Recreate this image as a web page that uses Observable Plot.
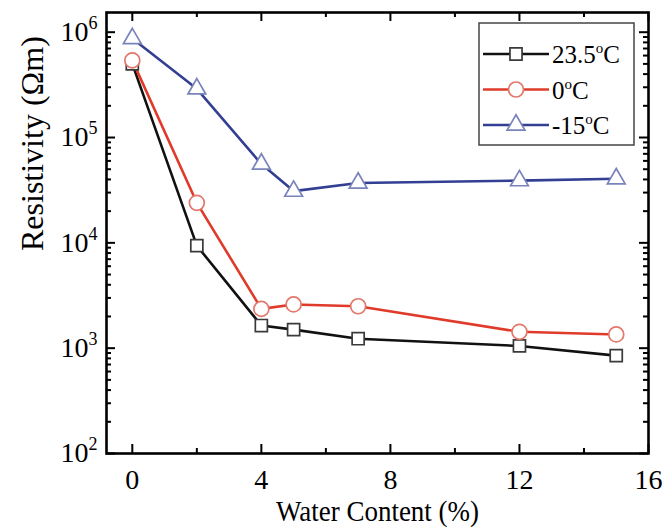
<!DOCTYPE html>
<html><head><meta charset="utf-8">
<script src="https://cdn.jsdelivr.net/npm/d3@7"></script>
<script src="https://cdn.jsdelivr.net/npm/@observablehq/plot@0.6"></script>
<style>body{margin:0;background:#fff}#chart svg{display:block}</style>
</head><body><div id="chart"></div>
<script>
// ---- data ----
const waterContent = [0, 2, 4, 5, 7, 12, 15];
const seriesNames = ["23.5", "0", "-15"]; // temperatures, °C
const res23_5 = [5.0e5, 9.4e3, 1.64e3, 1.5e3, 1.23e3, 1.05e3, 8.5e2];
const res0 = [5.4e5, 2.4e4, 2.36e3, 2.6e3, 2.5e3, 1.43e3, 1.35e3];
const resMinus15 = [8.7e5, 2.9e5, 5.6e4, 3.1e4, 3.7e4, 3.9e4, 4.06e4];
const xTickMajor = [0, 4, 8, 12, 16];
const xTickMinor = [2, 6, 10, 14];
const yExponents = [2, 3, 4, 5, 6];
const xTitle = "Water Content (%)";
const yTitle = "Resistivity (Ωm)";

// ---- style ----
const W = 666, H = 530, mL = 106, mR = 18, mT = 12, mB = 77;
const fw = W - mL - mR, fh = H - mT - mB;
const lineColors = ["#111111", "#e03a2a", "#323f93"];
const markColors = ["#3a3a3a", "#e2786c", "#7a84bb"];
const symbols = ["square", "circle", "triangle"];
const radii = [6.8, 7.5, 6.6];
const font = "Liberation Serif";

const seriesValues = [res23_5, res0, resMinus15];
const series = seriesValues.map((vals, s) =>
  waterContent.map((x, i) => ({x, y: vals[i], name: seriesNames[s]})));

const yMajor = yExponents.map(e => 10 ** e);
const yMinor = d3.range(2, 6).flatMap(e => d3.range(2, 10).map(k => k * 10 ** e));

const marks = [];
const tk = {stroke: "#000", strokeWidth: 2};
marks.push(Plot.tickX(xTickMajor, {x: d => d, insetTop: fh - 9, ...tk}));
marks.push(Plot.tickX(xTickMinor, {x: d => d, insetTop: fh - 5, ...tk}));
marks.push(Plot.tickX(xTickMajor, {x: d => d, insetBottom: fh - 9, ...tk}));
marks.push(Plot.tickX(xTickMinor, {x: d => d, insetBottom: fh - 5, ...tk}));
marks.push(Plot.tickY(yMajor, {y: d => d, insetRight: fw - 9, ...tk}));
marks.push(Plot.tickY(yMinor, {y: d => d, insetRight: fw - 5, ...tk}));
marks.push(Plot.tickY(yMajor, {y: d => d, insetLeft: fw - 9, ...tk}));
marks.push(Plot.tickY(yMinor, {y: d => d, insetLeft: fw - 5, ...tk}));

series.forEach((data, s) => {
  marks.push(Plot.line(data, {x: "x", y: "y", stroke: lineColors[s], strokeWidth: 2.6}));
});
series.forEach((data, s) => {
  marks.push(Plot.dot(data, {x: "x", y: "y", symbol: () => symbols[s], r: radii[s],
    stroke: markColors[s], fill: "white", strokeWidth: 1.7}));
});

marks.push(Plot.axisX({ticks: xTickMajor, tickSize: 0, tickPadding: 16, label: null,
  fontSize: 28, tickFormat: d => String(d)}));
marks.push(Plot.axisY({ticks: yMajor, tickSize: 0, tickPadding: 9, label: null,
  fontSize: 28, tickFormat: d => "10^" + Math.round(Math.log10(d))}));
marks.push(Plot.text([xTitle], {text: d => d, frameAnchor: "bottom", dy: 67, fontSize: 29}));
marks.push(Plot.text([yTitle], {text: d => d, frameAnchor: "left", dx: -74, dy: 18, rotate: -90,
  fontSize: 32}));
marks.push(Plot.frame({stroke: "#000", strokeWidth: 2.6}));

const plot = Plot.plot({
  width: W, height: H, marginLeft: mL, marginRight: mR, marginTop: mT, marginBottom: mB,
  x: {domain: [-0.8, 16]},
  y: {type: "log", domain: [100, 10 ** 6.187]},
  marks
});

const svg = d3.select(plot);
svg.attr("font-family", font);

// superscript exponents on y tick labels; compress the x title like the original
svg.selectAll("text").each(function() {
  const t = this.textContent;
  const m = /^10\^(-?\d+)$/.exec(t);
  if (m) {
    this.textContent = "10";
    d3.select(this).append("tspan").attr("dy", "-12").attr("font-size", "18").text(m[1]);
  }
  if (t === xTitle) {
    d3.select(this).attr("textLength", 203).attr("lengthAdjust", "spacingAndGlyphs");
  }
});

// legend
const lg = svg.append("g");
lg.append("rect").attr("x", 479).attr("y", 23).attr("width", 155).attr("height", 122)
  .attr("fill", "#fff").attr("stroke", "#444").attr("stroke-width", 1.5);
seriesNames.forEach((name, s) => {
  const cy = 54 + s * 35.5;
  lg.append("line").attr("x1", 483).attr("x2", 549).attr("y1", cy).attr("y2", cy)
    .attr("stroke", lineColors[s]).attr("stroke-width", 2.6);
  const sym = {square: d3.symbolSquare, circle: d3.symbolCircle, triangle: d3.symbolTriangle}[symbols[s]];
  lg.append("path").attr("d", d3.symbol(sym, Math.PI * radii[s] ** 2)())
    .attr("transform", `translate(516,${cy})`)
    .attr("fill", "#fff").attr("stroke", markColors[s]).attr("stroke-width", 1.7);
  const tx = lg.append("text").attr("x", 552).attr("y", cy + 9).attr("font-size", 25)
    .attr("text-anchor", "start").attr("fill", "#000");
  tx.append("tspan").text(name);
  tx.append("tspan").attr("dy", -10).attr("font-size", 15).text("o");
  tx.append("tspan").attr("dy", 10).text("C");
});

svg.selectAll("text").attr("font-family", font).style("font-family", font);

document.getElementById("chart").appendChild(plot);
</script>
</body></html>
